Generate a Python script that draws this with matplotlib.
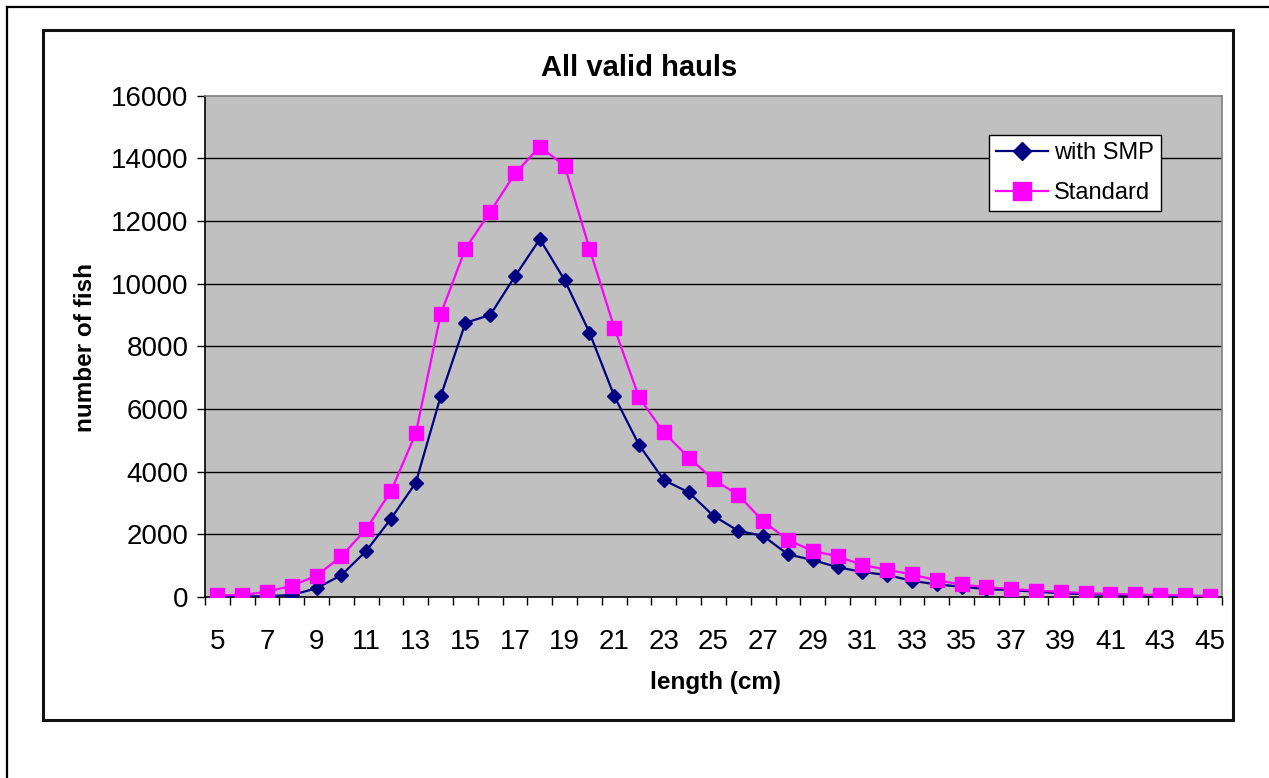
import matplotlib
matplotlib.use("Agg")
import matplotlib.pyplot as plt
from matplotlib.lines import Line2D
from matplotlib.patches import Rectangle
from matplotlib.ticker import FixedLocator

lengths = list(range(5, 46))
with_smp = [10, 10, 30, 64, 280, 700, 1470, 2500, 3650, 6400, 8750, 9000, 10240, 11420,
            10110, 8440, 6410, 4850, 3730, 3340, 2590, 2110, 1950, 1360, 1180, 950, 800,
            700, 520, 400, 330, 250, 220, 170, 120, 90, 70, 50, 40, 20, 10]
standard = [60, 60, 170, 360, 680, 1300, 2170, 3380, 5230, 9020, 11120, 12290, 13520,
            14370, 13760, 11120, 8590, 6370, 5250, 4450, 3750, 3250, 2420, 1820, 1470,
            1300, 1020, 870, 720, 530, 400, 310, 260, 200, 170, 120, 100, 80, 60, 55, 30]
y_ticks = list(range(0, 16001, 2000))
x_labels = list(range(5, 46, 2))

plt.rcParams['font.family'] = ['Liberation Sans', 'DejaVu Sans']

W, H = 1269, 778
fig = plt.figure(figsize=(W / 100, H / 100), dpi=100)

def fx(px):
    return px / W

def fy(py):
    return 1 - py / H

# outer page frame lines
fig.add_artist(Line2D([fx(7), 1], [fy(7), fy(7)], color='black', lw=1.6))
fig.add_artist(Line2D([fx(7), fx(7)], [fy(7), 0], color='black', lw=1.6))
# chart box
fig.add_artist(Rectangle((fx(43), fy(720)), fx(1233) - fx(43), fy(30) - fy(720),
                         fill=False, edgecolor='#111111', lw=2.2))

left, right, top, bottom = 205, 1222, 95.6, 597
ax = fig.add_axes([fx(left), fy(bottom), fx(right) - fx(left), fy(top) - fy(bottom)])
ax.set_facecolor('#C0C0C0')

for yv in y_ticks[1:-1]:
    ax.axhline(yv, color='black', lw=1.0, zorder=1)

ax.plot(lengths, with_smp, color='#000080', lw=1.6, marker='D', markersize=7,
        markerfacecolor='#000080', markeredgecolor='#000080', label='with SMP', zorder=3)
ax.plot(lengths, standard, color='#FF00FF', lw=1.6, marker='s', markersize=10,
        markerfacecolor='#FF00FF', markeredgecolor='#FF00FF', label='Standard', zorder=4)

ax.set_xlim(4.5, 45.5)
ax.set_ylim(0, 16000)

ax.xaxis.set_major_locator(FixedLocator(x_labels))
ax.xaxis.set_minor_locator(FixedLocator([v - 0.5 for v in lengths] + [45.5]))
ax.set_xticklabels([str(v) for v in x_labels])
ax.tick_params(axis='x', which='major', length=0, pad=23, labelsize=20)
ax.tick_params(axis='x', which='minor', length=6, width=1, direction='out', color='black')
ax.set_yticks(y_ticks)
ax.tick_params(axis='y', which='major', length=6, width=1, direction='out', pad=6, labelsize=20)

for s in ['top', 'right']:
    ax.spines[s].set_color('#808080')
    ax.spines[s].set_linewidth(1.2)
for s in ['left', 'bottom']:
    ax.spines[s].set_color('black')
    ax.spines[s].set_linewidth(1.2)

fig.text(fx(639), fy(68), 'All valid hauls', ha='center', va='center',
         fontsize=21, fontweight='bold')
fig.text(fx(716), fy(682), 'length (cm)', ha='center', va='center',
         fontsize=17.5, fontweight='bold')
fig.text(fx(85), fy(347), 'number of fish', ha='center', va='center',
         rotation=90, fontsize=17.5, fontweight='bold')

leg = ax.legend(loc='upper left', bbox_to_anchor=((989 - left) / (right - left), (bottom - 135) / (bottom - top)),
                fontsize=17, frameon=True, fancybox=False, edgecolor='black',
                framealpha=1, borderpad=0.3, handlelength=2.2, handletextpad=0.25,
                labelspacing=0.75, borderaxespad=0, markerscale=1.3)
leg.get_frame().set_linewidth(1.0)

fig.savefig('out.png', dpi=100)
